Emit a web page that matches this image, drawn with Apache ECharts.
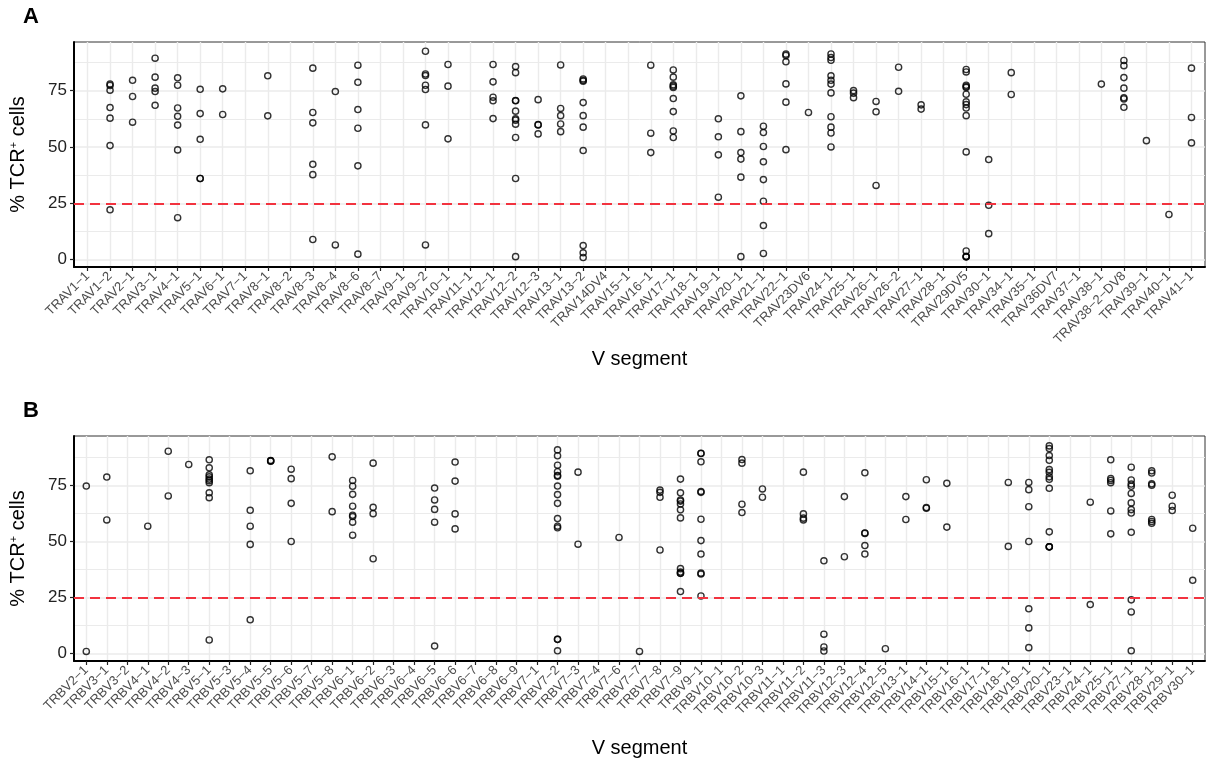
<!DOCTYPE html>
<html>
<head>
<meta charset="utf-8">
<title>% TCR+ cells by V segment</title>
<script src="https://cdn.jsdelivr.net/npm/echarts@6/dist/echarts.min.js"></script>
<style>
  html, body { margin: 0; padding: 0; background: #fff; }
  #chart { width: 1208px; height: 767px; }
</style>
</head>
<body>
<div id="chart"></div>
<script>
// panel A: TRA V segments, one list of % TCR+ values per segment
const travSegments = [
  'TRAV1−1', 'TRAV1−2', 'TRAV2−1', 'TRAV3−1', 'TRAV4−1', 'TRAV5−1', 'TRAV6−1', 'TRAV7−1',
  'TRAV8−1', 'TRAV8−2', 'TRAV8−3', 'TRAV8−4', 'TRAV8−6', 'TRAV8−7', 'TRAV9−1', 'TRAV9−2',
  'TRAV10−1', 'TRAV11−1', 'TRAV12−1', 'TRAV12−2', 'TRAV12−3', 'TRAV13−1', 'TRAV13−2',
  'TRAV14DV4', 'TRAV15−1', 'TRAV16−1', 'TRAV17−1', 'TRAV18−1', 'TRAV19−1', 'TRAV20−1',
  'TRAV21−1', 'TRAV22−1', 'TRAV23DV6', 'TRAV24−1', 'TRAV25−1', 'TRAV26−1', 'TRAV26−2',
  'TRAV27−1', 'TRAV28−1', 'TRAV29DV5', 'TRAV30−1', 'TRAV34−1', 'TRAV35−1', 'TRAV36DV7',
  'TRAV37−1', 'TRAV38−1', 'TRAV38−2−DV8', 'TRAV39−1', 'TRAV40−1', 'TRAV41−1'
]
const travValues = [
  [],
  [77.9, 77.3, 75.2, 67.5, 62.8, 50.6, 22.1],
  [79.6, 72.4, 61.0],
  [89.4, 81.0, 76.1, 74.6, 68.5],
  [80.7, 77.4, 67.3, 63.6, 59.7, 48.7, 18.6],
  [75.6, 64.8, 53.4, 36.0, 36.0],
  [75.8, 64.4],
  [],
  [81.6, 63.8],
  [],
  [85.0, 65.3, 60.7, 42.3, 37.7, 8.9],
  [74.6, 6.5],
  [86.3, 78.7, 66.6, 58.3, 41.6, 2.4],
  [],
  [],
  [92.5, 82.4, 81.7, 77.4, 75.5, 59.8, 6.5],
  [86.6, 77.0, 53.6],
  [],
  [86.6, 78.9, 72.1, 70.5, 62.6],
  [85.7, 83.0, 70.6, 70.5, 65.9, 62.5, 61.9, 60.1, 54.2, 36.0, 1.3],
  [71.0, 59.9, 59.8, 55.8],
  [86.4, 67.1, 63.9, 60.2, 56.8],
  [80.2, 79.6, 79.2, 69.7, 63.9, 58.8, 48.4, 6.2, 3.0, 0.9],
  [],
  [],
  [86.3, 56.1, 47.5],
  [84.2, 81.0, 77.6, 77.0, 76.4, 71.5, 65.7, 57.1, 54.2],
  [],
  [62.5, 54.5, 46.5, 27.7],
  [72.7, 56.8, 47.5, 44.6, 36.6, 1.3],
  [59.2, 56.4, 50.2, 43.4, 35.5, 25.9, 15.1, 2.7],
  [91.2, 90.6, 87.8, 78.0, 69.9, 48.8],
  [65.3],
  [91.3, 89.7, 88.5, 81.6, 79.6, 77.9, 74.0, 63.4, 58.8, 56.2, 50.0],
  [75.0, 73.9, 71.9],
  [70.2, 65.6, 32.9],
  [85.4, 74.7],
  [68.7, 66.8],
  [],
  [84.4, 83.3, 77.4, 76.8, 76.4, 73.4, 70.0, 68.8, 67.3, 63.9, 47.8, 3.8, 1.5, 1.2, 1.2],
  [44.4, 24.1, 11.5],
  [83.0, 73.3],
  [],
  [],
  [],
  [77.9],
  [88.4, 86.1, 80.8, 76.1, 71.8, 71.3, 67.6],
  [52.8],
  [20.0],
  [85.0, 63.1, 51.8]
]

// panel B: TRB V segments
const trbvSegments = [
  'TRBV2−1', 'TRBV3−1', 'TRBV3−2', 'TRBV4−1', 'TRBV4−2', 'TRBV4−3', 'TRBV5−1', 'TRBV5−3',
  'TRBV5−4', 'TRBV5−5', 'TRBV5−6', 'TRBV5−7', 'TRBV5−8', 'TRBV6−1', 'TRBV6−2', 'TRBV6−3',
  'TRBV6−4', 'TRBV6−5', 'TRBV6−6', 'TRBV6−7', 'TRBV6−8', 'TRBV6−9', 'TRBV7−1', 'TRBV7−2',
  'TRBV7−3', 'TRBV7−4', 'TRBV7−6', 'TRBV7−7', 'TRBV7−8', 'TRBV7−9', 'TRBV9−1', 'TRBV10−1',
  'TRBV10−2', 'TRBV10−3', 'TRBV11−1', 'TRBV11−2', 'TRBV11−3', 'TRBV12−3', 'TRBV12−4',
  'TRBV12−5', 'TRBV13−1', 'TRBV14−1', 'TRBV15−1', 'TRBV16−1', 'TRBV17−1', 'TRBV18−1',
  'TRBV19−1', 'TRBV20−1', 'TRBV23−1', 'TRBV24−1', 'TRBV25−1', 'TRBV27−1', 'TRBV28−1',
  'TRBV29−1', 'TRBV30−1'
]
const trbvValues = [
  [74.7, 1.0],
  [78.7, 59.6],
  [],
  [56.8],
  [90.2, 70.3],
  [84.3],
  [86.4, 82.8, 79.7, 78.8, 77.8, 77.1, 76.2, 71.7, 69.5, 6.1],
  [],
  [81.5, 63.9, 56.8, 48.7, 15.1],
  [86.1, 85.9, 85.8],
  [82.2, 78.0, 67.0, 50.0],
  [],
  [87.7, 63.3],
  [77.2, 74.6, 71.0, 65.7, 61.7, 61.1, 58.6, 52.8],
  [84.9, 65.2, 62.4, 42.3],
  [],
  [],
  [73.8, 68.5, 64.3, 58.6, 3.4],
  [85.4, 76.9, 62.3, 55.6],
  [],
  [],
  [],
  [],
  [90.8, 88.2, 84.0, 81.1, 79.4, 79.1, 74.7, 70.9, 67.0, 60.2, 56.8, 56.1, 6.4, 6.4, 1.3],
  [80.9, 48.8],
  [],
  [51.8],
  [1.0],
  [72.9, 71.9, 69.7, 46.2],
  [77.8, 71.7, 68.5, 68.0, 66.7, 64.1, 60.5, 37.9, 36.4, 35.9, 35.8, 27.7],
  [89.3, 89.2, 85.5, 72.3, 71.9, 59.9, 50.4, 44.4, 35.9, 35.5, 25.7],
  [],
  [86.5, 84.9, 66.6, 62.9],
  [73.4, 69.7],
  [],
  [80.9, 62.3, 60.4, 59.6],
  [41.4, 8.7, 3.0, 1.2],
  [70.0, 43.2],
  [80.6, 53.8, 53.6, 48.2, 44.4],
  [2.2],
  [70.0, 59.8],
  [77.5, 65.1, 64.8],
  [75.9, 56.4],
  [],
  [],
  [76.3, 47.8],
  [76.3, 73.1, 65.5, 50.0, 20.0, 11.5, 2.7],
  [92.6, 91.4, 88.3, 86.2, 82.0, 80.8, 78.8, 77.7, 73.7, 54.3, 47.6, 47.6, 47.6],
  [],
  [67.5, 21.9],
  [86.4, 78.0, 77.2, 76.2, 63.6, 53.4],
  [83.1, 77.4, 75.6, 74.6, 71.4, 67.2, 64.2, 62.7, 54.1, 24.0, 18.6, 1.3],
  [81.5, 80.5, 75.7, 75.1, 59.8, 58.9, 58.1],
  [70.6, 65.7, 63.8],
  [55.9, 32.7]
]

const yTicks = [0, 25, 50, 75]
const yMinorTicks = [12.5, 37.5, 62.5, 87.5]
const cutoff = 25

const fontFamily = '"Liberation Sans", Arial, Helvetica, sans-serif'
const gridColor = '#ebebeb'

function toPoints(values) {
  const out = []
  values.forEach((list, i) => list.forEach((v) => out.push([i, v])))
  return out
}

function xAxisFor(gridIndex, segments, nameGap) {
  const idx = segments.map((_, i) => i)
  return {
    type: 'value',
    gridIndex,
    min: -0.6,
    max: segments.length - 0.4,
    name: 'V segment',
    nameLocation: 'middle',
    nameGap,
    nameTextStyle: { fontSize: 20, color: '#000', fontFamily },
    axisLine: { show: true, onZero: false, lineStyle: { color: '#000', width: 2 } },
    axisTick: { show: true, length: 4, customValues: idx, lineStyle: { color: '#222', width: 1.2 } },
    axisLabel: {
      customValues: idx,
      rotate: 45,
      margin: 7,
      fontSize: 13,
      color: '#4d4d4d',
      fontFamily,
      formatter: (v) => segments[v]
    },
    splitLine: { show: true, lineStyle: { color: gridColor, width: 1.4 } }
  }
}

function yAxesFor(gridIndex, min, max) {
  return [
    {
      type: 'value',
      gridIndex,
      min,
      max,
      name: '% TCR{sup|+} cells',
      nameLocation: 'middle',
      nameGap: 46,
      nameTextStyle: {
        fontSize: 20,
        color: '#000',
        fontFamily,
        rich: { sup: { fontSize: 11, color: '#000', fontFamily, verticalAlign: 'top' } }
      },
      axisLine: { show: true, onZero: false, lineStyle: { color: '#000', width: 2 } },
      axisTick: { show: true, length: 4, customValues: yTicks, lineStyle: { color: '#222', width: 1.2 } },
      axisLabel: { customValues: yTicks, margin: 7, fontSize: 17, color: '#222', fontFamily },
      splitLine: { show: true, lineStyle: { color: gridColor, width: 1.7 } }
    },
    {
      // minor grid lines only
      type: 'value',
      gridIndex,
      min,
      max,
      axisLine: { show: false },
      axisTick: { show: false, customValues: yMinorTicks },
      axisLabel: { show: false, customValues: yMinorTicks },
      splitLine: { show: true, lineStyle: { color: gridColor, width: 1 } }
    }
  ]
}

function pointSeries(axisIndex, yIndex, values) {
  return {
    type: 'scatter',
    xAxisIndex: axisIndex,
    yAxisIndex: yIndex,
    data: toPoints(values),
    symbol: 'circle',
    symbolSize: 6.2,
    itemStyle: { color: 'rgba(0,0,0,0)', borderColor: '#000', borderWidth: 1.4 },
    markLine: {
      silent: true,
      symbol: 'none',
      label: { show: false },
      lineStyle: { color: '#f2333f', type: [10, 6], width: 1.8 },
      data: [{ yAxis: cutoff }]
    }
  }
}

const chart = echarts.init(document.getElementById('chart'))
chart.setOption({
  animation: false,
  title: [
    { text: 'A', left: 23, top: 6, padding: 0, textStyle: { fontSize: 22, fontWeight: 'bold', color: '#000', fontFamily } },
    { text: 'B', left: 23, top: 400, padding: 0, textStyle: { fontSize: 22, fontWeight: 'bold', color: '#000', fontFamily } }
  ],
  grid: [
    { left: 74, right: 3, top: 42, height: 225, show: true, borderColor: '#333', borderWidth: 1, outerBoundsMode: 'none' },
    { left: 74, right: 3, top: 436, height: 225, show: true, borderColor: '#333', borderWidth: 1, outerBoundsMode: 'none' }
  ],
  xAxis: [xAxisFor(0, travSegments, 81), xAxisFor(1, trbvSegments, 77)],
  yAxis: [...yAxesFor(0, -3.3, 96.6), ...yAxesFor(1, -3.25, 97.0)],
  series: [pointSeries(0, 0, travValues), pointSeries(1, 2, trbvValues)]
})
</script>
</body>
</html>
